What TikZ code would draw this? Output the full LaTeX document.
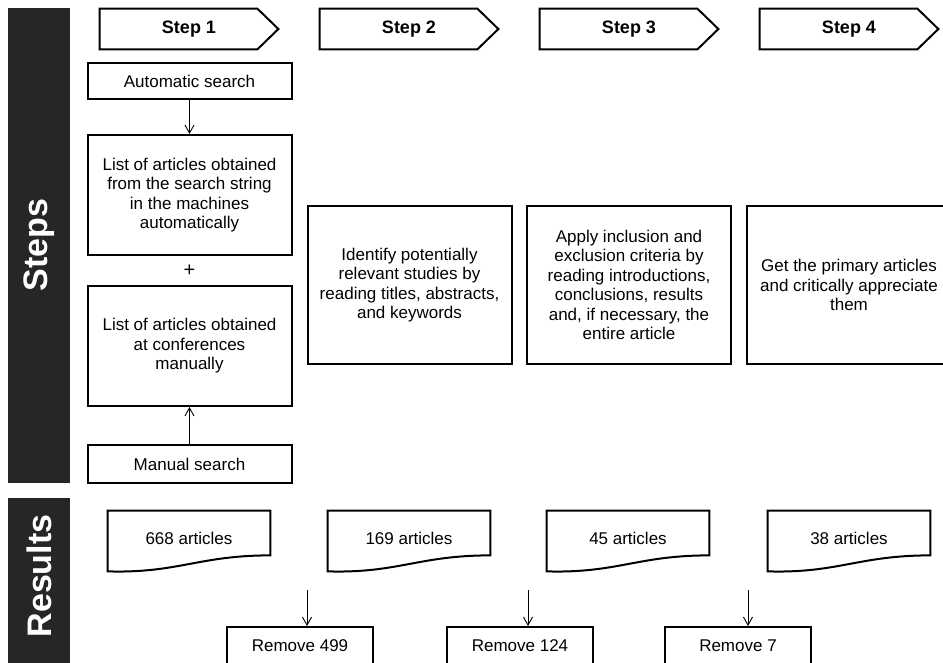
\documentclass[tikz,border=0pt]{standalone}
\usepackage{fontspec}
\setmainfont{Liberation Sans}
\usetikzlibrary{arrows.meta}

\definecolor{barcol}{RGB}{38,38,38}

\tikzset{every picture/.style={line width=0.75pt}}
\tikzset{
  stephead/.style={rectangle, inner sep=0pt, minimum width=178, minimum height=40,
    font=\bfseries\fontsize{18}{20}\selectfont},
  stepbox/.style={draw, line width=2pt, rectangle, align=center, inner sep=0pt,
    minimum width=204, font=\fontsize{17}{19.5}\selectfont},
  docbox/.style={rectangle, inner sep=0pt, minimum width=162, minimum height=54,
    font=\fontsize{17}{19.5}\selectfont},
  removebox/.style={draw, line width=2pt, rectangle, inner sep=0pt, minimum width=146,
    minimum height=38, font=\fontsize{17}{19.5}\selectfont},
  barlabel/.style={rotate=90, text=white, font=\bfseries\fontsize{34}{34}\selectfont},
  flow/.style={-{Straight Barb[length=8pt,width=9pt,line width=0.9pt]}, line width=1pt}
}

\begin{document}
\begin{tikzpicture}[x=1pt,y=1pt,yscale=-1,xscale=1]
\useasboundingbox (0,0) rectangle (943,662);

%Side bars
\fill[barcol] (8,8) rectangle (70,483);
\fill[barcol] (8,498) rectangle (70,670);
\node[barlabel] (stepslbl) at (39,245) {Steps};
\node[barlabel] (resultslbl) at (39,576) {Results};

%Step headers
\foreach \i/\x in {1/189, 2/409, 3/629, 4/849} {
  \node[stephead] (head\i) at (\x,29) {Step \i};
  \draw[line width=2pt, line join=miter] (head\i.north west) -- ([xshift=-21]head\i.north east)
    -- (head\i.east) -- ([xshift=-21]head\i.south east) -- (head\i.south west) -- cycle;
}

%Step 1 column
\node[stepbox, minimum height=36] (auto) at (189.5,81) {Automatic search};
\node[stepbox, minimum height=120] (list1) at (189.5,195)
  {List of articles obtained\\from the search string\\in the machines\\automatically};
% Text Node
\node[font=\fontsize{20}{20}\selectfont] (plus) at (189.5,271) {+};
\node[stepbox, minimum height=120] (list2) at (189.5,346)
  {List of articles obtained\\at conferences\\manually};
\node[stepbox, minimum height=38] (manual) at (189.5,464) {Manual search};
\draw[flow] (auto) -- (list1);
\draw[flow] (manual) -- (list2);

%Steps 2 to 4
\node[stepbox, minimum height=158] (filter) at (409.5,285)
  {Identify potentially\\relevant studies by\\reading titles, abstracts,\\and keywords};
\node[stepbox, minimum height=158] (criteria) at (629,285)
  {Apply inclusion and\\exclusion criteria by\\reading introductions,\\conclusions, results\\and, if necessary, the\\entire article};
\node[stepbox, minimum height=158] (primary) at (849,285)
  {Get the primary articles\\and critically appreciate\\them};

%Results documents
\foreach \i/\x/\n in {1/189/668, 2/409/169, 3/628/45, 4/849/38} {
  \node[docbox] (res\i) at (\x,538) {\n\ articles};
  \draw[line width=2pt] (res\i.north west) -- (res\i.north east)
    -- ([yshift=-10]res\i.south east)
    .. controls ([xshift=-72,yshift=-10]res\i.south east) and ([xshift=-92,yshift=8]res\i.south east) .. ([yshift=6]res\i.south west)
    -- cycle;
}

%Removed
\node[removebox] (rm1) at (300,646) {Remove 499};
\node[removebox] (rm2) at (520,646) {Remove 124};
\node[removebox] (rm3) at (738,646) {Remove 7};
\coordinate (drop1) at (307,590);
\coordinate (drop2) at (528,590);
\coordinate (drop3) at (748,590);
\foreach \i in {1,2,3}
  \draw[flow] (drop\i) -- (drop\i |- rm\i.north);

\end{tikzpicture}
\end{document}
